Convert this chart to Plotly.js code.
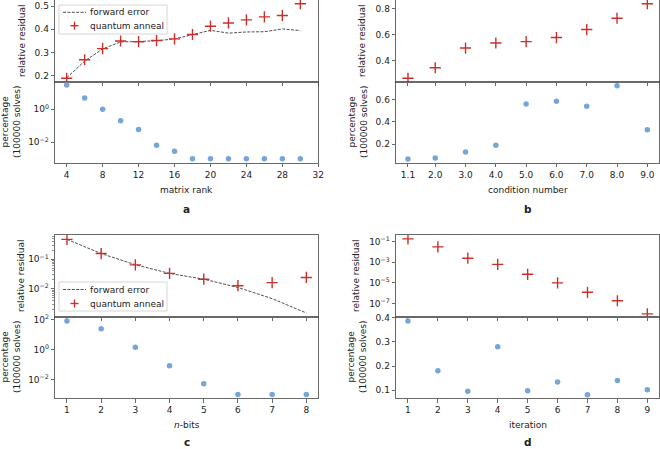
<!DOCTYPE html>
<html>
<head>
<meta charset="utf-8">
<script src="https://cdn.plot.ly/plotly-3.0.1.min.js"></script>
<style>
  html, body { margin: 0; padding: 0; background: #fff; }
  #fig { width: 660px; height: 449px; }
</style>
</head>
<body>
<div id="fig"></div>
<script>
// panel a: matrix rank
var rankVals = [4, 6, 8, 10, 12, 14, 16, 18, 20, 22, 24, 26, 28, 30];
var rankAnneal = [0.188, 0.268, 0.316, 0.349, 0.346, 0.351, 0.358, 0.377, 0.413, 0.427, 0.44, 0.453, 0.459, 0.51];
var rankForward = [0.19, 0.262, 0.315, 0.345, 0.347, 0.35, 0.358, 0.375, 0.395, 0.383, 0.388, 0.389, 0.401, 0.394];
var rankPct = [29.5, 4.8, 1.0, 0.2, 0.06, 0.0066, 0.0028, 0.001, 0.001, 0.001, 0.001, 0.001, 0.001, 0.001];

// panel b: condition number
var condVals = [1.1, 2, 3, 4, 5, 6, 7, 8, 9];
var condLabels = ['1.1', '2.0', '3.0', '4.0', '5.0', '6.0', '7.0', '8.0', '9.0'];
var condAnneal = [0.265, 0.346, 0.498, 0.537, 0.548, 0.579, 0.641, 0.728, 0.84];
var condPct = [0.068, 0.077, 0.13, 0.19, 0.559, 0.583, 0.54, 0.723, 0.33];

// panel c: n-bits
var bitsVals = [1, 2, 3, 4, 5, 6, 7, 8];
var bitsAnneal = [0.47, 0.155, 0.064, 0.033, 0.021, 0.0126, 0.016, 0.024];
var bitsForward = [0.47, 0.155, 0.065, 0.033, 0.021, 0.011, 0.0046, 0.0015];
var bitsPct = [85, 26, 1.5, 0.085, 0.0054, 0.001, 0.001, 0.001];

// panel d: iteration
var iterVals = [1, 2, 3, 4, 5, 6, 7, 8, 9];
var iterAnneal = [0.19, 0.032, 0.0025, 0.00063, 0.000068, 0.00001, 0.0000012, 0.00000018, 0.0000000095];
var iterPct = [0.386, 0.181, 0.096, 0.28, 0.098, 0.134, 0.082, 0.141, 0.102];

var legendNames = ['forward error', 'quantum anneal'];

var RED = '#c9302c';
var BLUE = '#78a5d8';
var AXC = '#444';
var FONT = 'DejaVu Sans';
var W = 660, H = 449;
function px(x) { return x / W; }
function py(y) { return 1 - y / H; }

function anneal(x, y, xa, ya) {
  return {x: x, y: y, xaxis: xa, yaxis: ya, type: 'scatter', mode: 'markers',
    name: legendNames[1], showlegend: false,
    marker: {symbol: 'cross-thin', size: 8, line: {color: RED, width: 1.4}, color: RED}};
}
function forward(x, y, xa, ya) {
  return {x: x, y: y, xaxis: xa, yaxis: ya, type: 'scatter', mode: 'lines',
    name: legendNames[0], showlegend: false,
    line: {color: '#222', width: 0.8, dash: '3px,1.4px'}};
}
function pct(x, y, xa, ya) {
  return {x: x, y: y, xaxis: xa, yaxis: ya, type: 'scatter', mode: 'markers',
    showlegend: false, marker: {size: 5.5, color: BLUE}};
}

var data = [
  forward(rankVals, rankForward, 'x', 'y'),
  anneal(rankVals, rankAnneal, 'x', 'y'),
  pct(rankVals, rankPct, 'x2', 'y2'),
  anneal(condVals, condAnneal, 'x3', 'y3'),
  pct(condVals, condPct, 'x4', 'y4'),
  forward(bitsVals, bitsForward, 'x5', 'y5'),
  anneal(bitsVals, bitsAnneal, 'x5', 'y5'),
  pct(bitsVals, bitsPct, 'x6', 'y6'),
  anneal(iterVals, iterAnneal, 'x7', 'y7'),
  pct(iterVals, iterPct, 'x8', 'y8')
];

var tickFont = {family: FONT, size: 9, color: '#222'};
function xax(dom, anchor, range, vals, text, labels, mirror) {
  return {domain: dom, anchor: anchor, range: range, tickvals: vals, ticktext: text,
    showticklabels: labels, ticks: 'outside', ticklen: 3.5, tickwidth: 0.8, tickcolor: AXC,
    showline: true, linecolor: AXC, linewidth: 0.8, mirror: mirror, showgrid: false,
    zeroline: false, tickfont: tickFont};
}
function yax(dom, anchor, type, range, vals, text, minor) {
  var a = {domain: dom, anchor: anchor, type: type, range: range, tickvals: vals, ticktext: text,
    ticks: 'outside', ticklen: 3.5, tickwidth: 0.8, tickcolor: AXC,
    showline: true, linecolor: AXC, linewidth: 0.8, mirror: true, showgrid: false,
    zeroline: false, tickfont: tickFont};
  if (minor) a.minor = {tickvals: minor, ticks: 'outside', ticklen: 2, tickwidth: 0.6, tickcolor: AXC, showgrid: false};
  return a;
}

var xL = [px(55), px(318.3)];
var xR = [px(396), px(659.3)];
var r1t = [py(82), 1];
var r1b = [py(162.7), py(82)];
var r2t = [py(316.7), py(235)];
var r2b = [py(398.3), py(316.7)];

var rankTicks = [4, 8, 12, 16, 20, 24, 28, 32];
var bitsTicks = [1, 2, 3, 4, 5, 6, 7, 8];
var iterTicks = [1, 2, 3, 4, 5, 6, 7, 8, 9];
var iterLabels = ['1', '2', '3', '4', '5', '6', '7', '8', '9'];
var sup = function (e) { return '10<sup>' + e + '</sup>'; };

var cMinor = [0.002, 0.003, 0.004, 0.005, 0.006, 0.007, 0.008, 0.009,
  0.02, 0.03, 0.04, 0.05, 0.06, 0.07, 0.08, 0.09, 0.2, 0.3, 0.4, 0.5, 0.6];

var layout = {
  width: W, height: H,
  margin: {l: 0, r: 0, t: 0, b: 0},
  paper_bgcolor: '#fff', plot_bgcolor: '#fff',
  showlegend: false,
  font: {family: FONT, size: 9, color: '#222'},
  xaxis: xax(xL, 'y', [2.7, 32], rankTicks, rankTicks.map(String), false, false),
  yaxis: yax(r1t, 'x', 'linear', [0.172, 0.526], [0.2, 0.3, 0.4, 0.5], ['0.2', '0.3', '0.4', '0.5']),
  xaxis2: xax(xL, 'y2', [2.7, 32], rankTicks, rankTicks.map(String), true, true),
  yaxis2: yax(r1b, 'x2', 'log', [-3.24, 1.65], [0.01, 1], [sup('−2'), sup('0')]),
  xaxis3: xax(xR, 'y3', [0.705, 9.395], condVals, condLabels, false, false),
  yaxis3: yax(r1t, 'x3', 'linear', [0.236, 0.869], [0.4, 0.6, 0.8], ['0.4', '0.6', '0.8']),
  xaxis4: xax(xR, 'y4', [0.705, 9.395], condVals, condLabels, true, true),
  yaxis4: yax(r1b, 'x4', 'linear', [0.035, 0.756], [0.2, 0.4, 0.6], ['0.2', '0.4', '0.6']),
  xaxis5: xax(xL, 'y5', [0.65, 8.35], bitsTicks, bitsTicks.map(String), false, true),
  yaxis5: yax(r2t, 'x5', 'log', [-2.95, -0.18], [0.01, 0.1], [sup('−2'), sup('−1')], cMinor),
  xaxis6: xax(xL, 'y6', [0.65, 8.35], bitsTicks, bitsTicks.map(String), true, true),
  yaxis6: yax(r2b, 'x6', 'log', [-3.25, 2.22], [0.01, 1, 100], [sup('−2'), sup('0'), sup('2')]),
  xaxis7: xax(xR, 'y7', [0.6, 9.4], iterTicks, iterLabels, false, true),
  yaxis7: yax(r2t, 'x7', 'log', [-8.3, -0.34], [1e-7, 1e-5, 1e-3, 1e-1], [sup('−7'), sup('−5'), sup('−3'), sup('−1')]),
  xaxis8: xax(xR, 'y8', [0.6, 9.4], iterTicks, iterLabels, true, true),
  yaxis8: yax(r2b, 'x8', 'linear', [0.067, 0.404], [0.1, 0.2, 0.3, 0.4], ['0.1', '0.2', '0.3', '0.4']),
  annotations: [],
  shapes: []
};

function note(text, x, y, angle, size, anchor) {
  layout.annotations.push({text: text, xref: 'paper', yref: 'paper', x: px(x), y: py(y),
    xanchor: anchor || 'center', yanchor: 'middle', showarrow: false, textangle: angle || 0,
    font: {family: FONT, size: size || 9, color: '#222'}});
}
function pline(x0, y0, x1, y1, color, width, dash) {
  layout.shapes.push({type: 'line', xref: 'paper', yref: 'paper', x0: px(x0), y0: py(y0),
    x1: px(x1), y1: py(y1), line: {color: color, width: width, dash: dash || 'solid'}});
}
// small legend box like matplotlib's
function legendBox(x, y, w, h, y1, y2) {
  layout.shapes.push({type: 'rect', xref: 'paper', yref: 'paper', x0: px(x), y0: py(y + h),
    x1: px(x + w), y1: py(y), fillcolor: 'rgba(255,255,255,0.85)', line: {color: '#cccccc', width: 0.8}});
  pline(x + 4, y1, x + 27, y1, '#222', 0.8, '3px,1.4px');
  pline(x + 11.5, y2, x + 19.5, y2, RED, 1.4);
  pline(x + 15.5, y2 - 4, x + 15.5, y2 + 4, RED, 1.4);
  note(legendNames[0], x + 29, y1, 0, 9, 'left');
  note(legendNames[1], x + 29, y2, 0, 9, 'left');
}
legendBox(59, 5, 108, 29, 12.3, 25.7);
legendBox(59, 282, 108, 29, 289.5, 303.5);

note('relative residual', 22, 41, -90);
note('relative residual', 362, 41, -90);
note('relative residual', 21, 276, -90);
note('relative residual', 356, 276, -90);
note('percentage<br>(100000 solves)', 11, 122, -90);
note('percentage<br>(100000 solves)', 358, 122, -90);
note('percentage<br>(100000 solves)', 11, 357, -90);
note('percentage<br>(100000 solves)', 357, 357, -90);
note('matrix rank', 186.5, 190);
note('condition number', 528, 190);
note('<i>n</i>-bits', 186.5, 425);
note('iteration', 528, 425);
note('<b>a</b>', 186.5, 209, 0, 10.5);
note('<b>b</b>', 528, 209, 0, 10.5);
note('<b>c</b>', 186.5, 442, 0, 10.5);
note('<b>d</b>', 528, 442, 0, 10.5);

Plotly.newPlot('fig', data, layout, {staticPlot: true, displayModeBar: false});
</script>
</body>
</html>
